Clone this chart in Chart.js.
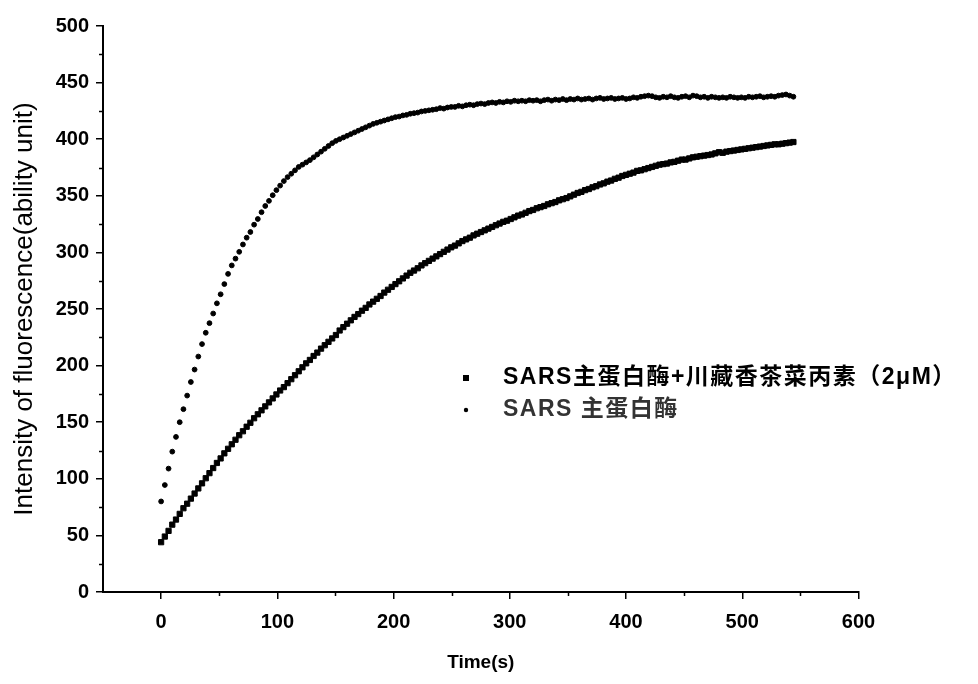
<!DOCTYPE html>
<html><head><meta charset="utf-8">
<script src="https://cdn.jsdelivr.net/npm/chart.js@4/dist/chart.umd.min.js"></script>
<style>html,body{margin:0;padding:0;background:#fff;}#wrap{width:978px;height:684px;}</style>
</head><body><div id="wrap"><canvas id="c" width="978" height="684"></canvas></div>
<script>
const SAMPLE_STEP_S = 3.2;
const seriesNames = ['SARS主蛋白酶+川藏香茶菜丙素（2μM）', 'SARS 主蛋白酶'];
const xTickValues = [0, 100, 200, 300, 400, 500, 600];
const xMinorTicks = [50, 150, 250, 350, 450, 550];
const yTickValues = [0, 50, 100, 150, 200, 250, 300, 350, 400, 450, 500];
const yMinorTicks = [25, 75, 125, 175, 225, 275, 325, 375, 425, 475];

// SARS main protease + inhibitor (2 μM) — square markers
const withInhibitor = [
  44, 49, 54, 59.5, 64, 69, 74, 78, 82.5, 87,
  91.5, 96, 100.5, 105, 109.5, 114, 118, 122.5, 126.5, 130.5,
  134.5, 138.5, 142, 146, 149.5, 153.5, 157, 160.5, 164, 167.5,
  171, 174.5, 178, 181, 184.5, 188, 191.5, 195, 198.5, 202,
  205, 208.5, 211.5, 215, 218, 221, 224, 227, 231, 234,
  237, 240, 243, 245.5, 248.5, 251, 254, 256.5, 259, 261.5,
  264.5, 267, 269.5, 272, 274.5, 277, 279.5, 282, 284, 286,
  288.5, 290.5, 292.5, 294.5, 296.5, 298.5, 300.5, 302.5, 304.5, 306,
  308, 310, 311.5, 313, 315, 316.5, 318, 319.5, 321, 322.5,
  324, 325.5, 327, 328, 329.5, 331, 332.5, 333.5, 335, 336.5,
  337.5, 339, 340, 341, 342.5, 343.5, 344.5, 346, 347, 348,
  349.5, 351, 352.5, 353.5, 355, 356, 357.5, 358.5, 360, 361,
  362.5, 363.5, 365, 366, 367.5, 368.5, 369.5, 370.5, 372, 372.5,
  373.5, 374.5, 375.5, 376.5, 377.5, 378, 378.5, 379.5, 380, 381,
  382, 382, 383, 384, 384.5, 385, 385.5, 386, 386.5, 387.5,
  388.5, 388, 389, 389.5, 390, 390.5, 391, 391.5, 392, 392.5,
  393, 393.5, 394, 394.5, 395, 395.5, 395.5, 396, 396.5, 397,
  397.5
];

// SARS main protease alone — small round markers
const enzymeOnly = [
  80, 94.5, 109, 124, 137, 150, 161.5, 173.5, 185.5, 196.5,
  208, 219, 229, 237.5, 246, 255, 263, 272, 281, 288.5,
  294.5, 300.5, 307, 313, 318, 324.5, 329.5, 335.5, 341, 345.5,
  350.5, 355, 359, 363, 366.5, 369.5, 372.5, 375.5, 377.5, 379.5,
  381.5, 384, 386.5, 389, 391.5, 394, 396.5, 398.5, 400, 401.5,
  403, 404.5, 406, 407.5, 409, 410.5, 412, 413.5, 414.5, 415.5,
  416.5, 417.5, 418.5, 419.5, 420, 421, 421.5, 422.5, 423, 423.5,
  424.5, 425, 425.5, 426, 426.5, 427.5, 427, 428, 428.5, 428.5,
  429.5, 429, 430, 430.5, 430, 431, 431.5, 431, 432, 432.5,
  432, 433, 432.5, 433.5, 433, 434, 433.5, 434, 433.5, 434.5,
  434, 434.5, 433.5, 434.5, 435, 434, 435, 434.5, 435.5, 434.5,
  435.5, 435, 436, 435, 435.5, 436, 435, 436, 436.5, 435.5,
  436, 436.5, 435.5, 436, 436.5, 435.5, 436, 437, 436.5, 437.5,
  438, 438.5, 438, 437, 436.5, 437.5, 437, 438, 437, 436.5,
  437.5, 438, 437, 438.5, 438, 437, 437.5, 436.5, 437.5, 437,
  436.5, 437, 436.5, 437.5, 437, 436.5, 437, 436.5, 437.5, 437,
  437.5, 438, 437, 437.5, 438, 437.5, 438.5, 439, 439.5, 438.5,
  437.5
];

const timeSeconds = withInhibitor.map((_, i) => Math.round(i * SAMPLE_STEP_S * 10) / 10);
const toPoints = vals => vals.map((v, i) => ({ x: timeSeconds[i], y: v }));

const FONT = "'Liberation Sans', Arial, 'Noto Sans CJK SC', sans-serif";

const minorTicksPlugin = {
  id: 'minorTicks',
  afterDraw(chart) {
    const { ctx, chartArea, scales: { x, y } } = chart;
    ctx.save();
    ctx.strokeStyle = '#000';
    ctx.lineWidth = 1.5;
    yMinorTicks.forEach(v => {
      const py = Math.round(y.getPixelForValue(v)) + 0.5;
      ctx.beginPath(); ctx.moveTo(chartArea.left, py); ctx.lineTo(chartArea.left - 4, py); ctx.stroke();
    });
    xMinorTicks.forEach(v => {
      const px = Math.round(x.getPixelForValue(v)) + 0.5;
      ctx.beginPath(); ctx.moveTo(px, chartArea.bottom); ctx.lineTo(px, chartArea.bottom + 4); ctx.stroke();
    });
    ctx.restore();
  }
};

const legendPlugin = {
  id: 'customLegend',
  afterDraw(chart) {
    const { ctx, chartArea } = chart;
    const mx = chartArea.left + 363;
    const tx = chartArea.left + 400;
    const y1 = chartArea.top + 352;
    const y2 = chartArea.top + 384;
    ctx.save();
    ctx.fillStyle = '#000';
    ctx.fillRect(mx - 3, y1 - 3, 6, 6);
    ctx.beginPath(); ctx.arc(mx, y2, 2.2, 0, Math.PI * 2); ctx.fill();
    ctx.textBaseline = 'middle';
    ctx.textAlign = 'left';
    ctx.font = "bold 23px " + FONT;
    try { ctx.letterSpacing = '1.5px'; } catch (e) {}
    ctx.fillText(seriesNames[0], tx, y1);
    ctx.fillStyle = '#333';
    ctx.fillText(seriesNames[1], tx, y2);
    ctx.restore();
  }
};

new Chart(document.getElementById('c'), {
  type: 'scatter',
  data: {
    datasets: [
      {
        label: seriesNames[0],
        data: toPoints(withInhibitor),
        pointStyle: 'rect',
        pointRadius: 3.7,
        pointBorderWidth: 1,
        backgroundColor: '#000',
        borderColor: '#000',
        showLine: false
      },
      {
        label: seriesNames[1],
        data: toPoints(enzymeOnly),
        pointStyle: 'circle',
        pointRadius: 2.4,
        pointBorderWidth: 1,
        backgroundColor: '#000',
        borderColor: '#000',
        showLine: false
      }
    ]
  },
  options: {
    responsive: false,
    animation: false,
    devicePixelRatio: 1,
    layout: { padding: { left: 0, top: 26, right: 119.5, bottom: 0 } },
    plugins: { legend: { display: false }, tooltip: { enabled: false } },
    scales: {
      x: {
        type: 'linear',
        min: -50,
        max: 600,
        afterBuildTicks(scale) { scale.ticks = xTickValues.map(v => ({ value: v })); },
        ticks: { color: '#000', padding: 11, maxRotation: 0, font: { size: 20, weight: 'bold', family: FONT } },
        grid: { drawOnChartArea: false, drawTicks: true, tickLength: 7, color: '#000', lineWidth: 1.5 },
        border: { display: true, color: '#000', width: 2 },
        title: { display: true, text: 'Time(s)', color: '#000', font: { size: 19, weight: 'bold', family: FONT }, padding: { top: 4, bottom: 10 } },
        afterFit(scale) { scale.height = 92; }
      },
      y: {
        type: 'linear',
        min: 0,
        max: 500,
        afterBuildTicks(scale) { scale.ticks = yTickValues.map(v => ({ value: v })); },
        ticks: { color: '#000', padding: 7, font: { size: 20, weight: 'bold', family: FONT } },
        grid: { drawOnChartArea: false, drawTicks: true, tickLength: 7, color: '#000', lineWidth: 1.5 },
        border: { display: true, color: '#000', width: 2 },
        title: { display: true, text: 'Intensity of fluorescence(ability unit)', color: '#000', font: { size: 26, family: FONT }, padding: { top: 9, bottom: 0 } },
        afterFit(scale) { scale.width = 103; }
      }
    }
  },
  plugins: [minorTicksPlugin, legendPlugin]
});
</script>
</body></html>
